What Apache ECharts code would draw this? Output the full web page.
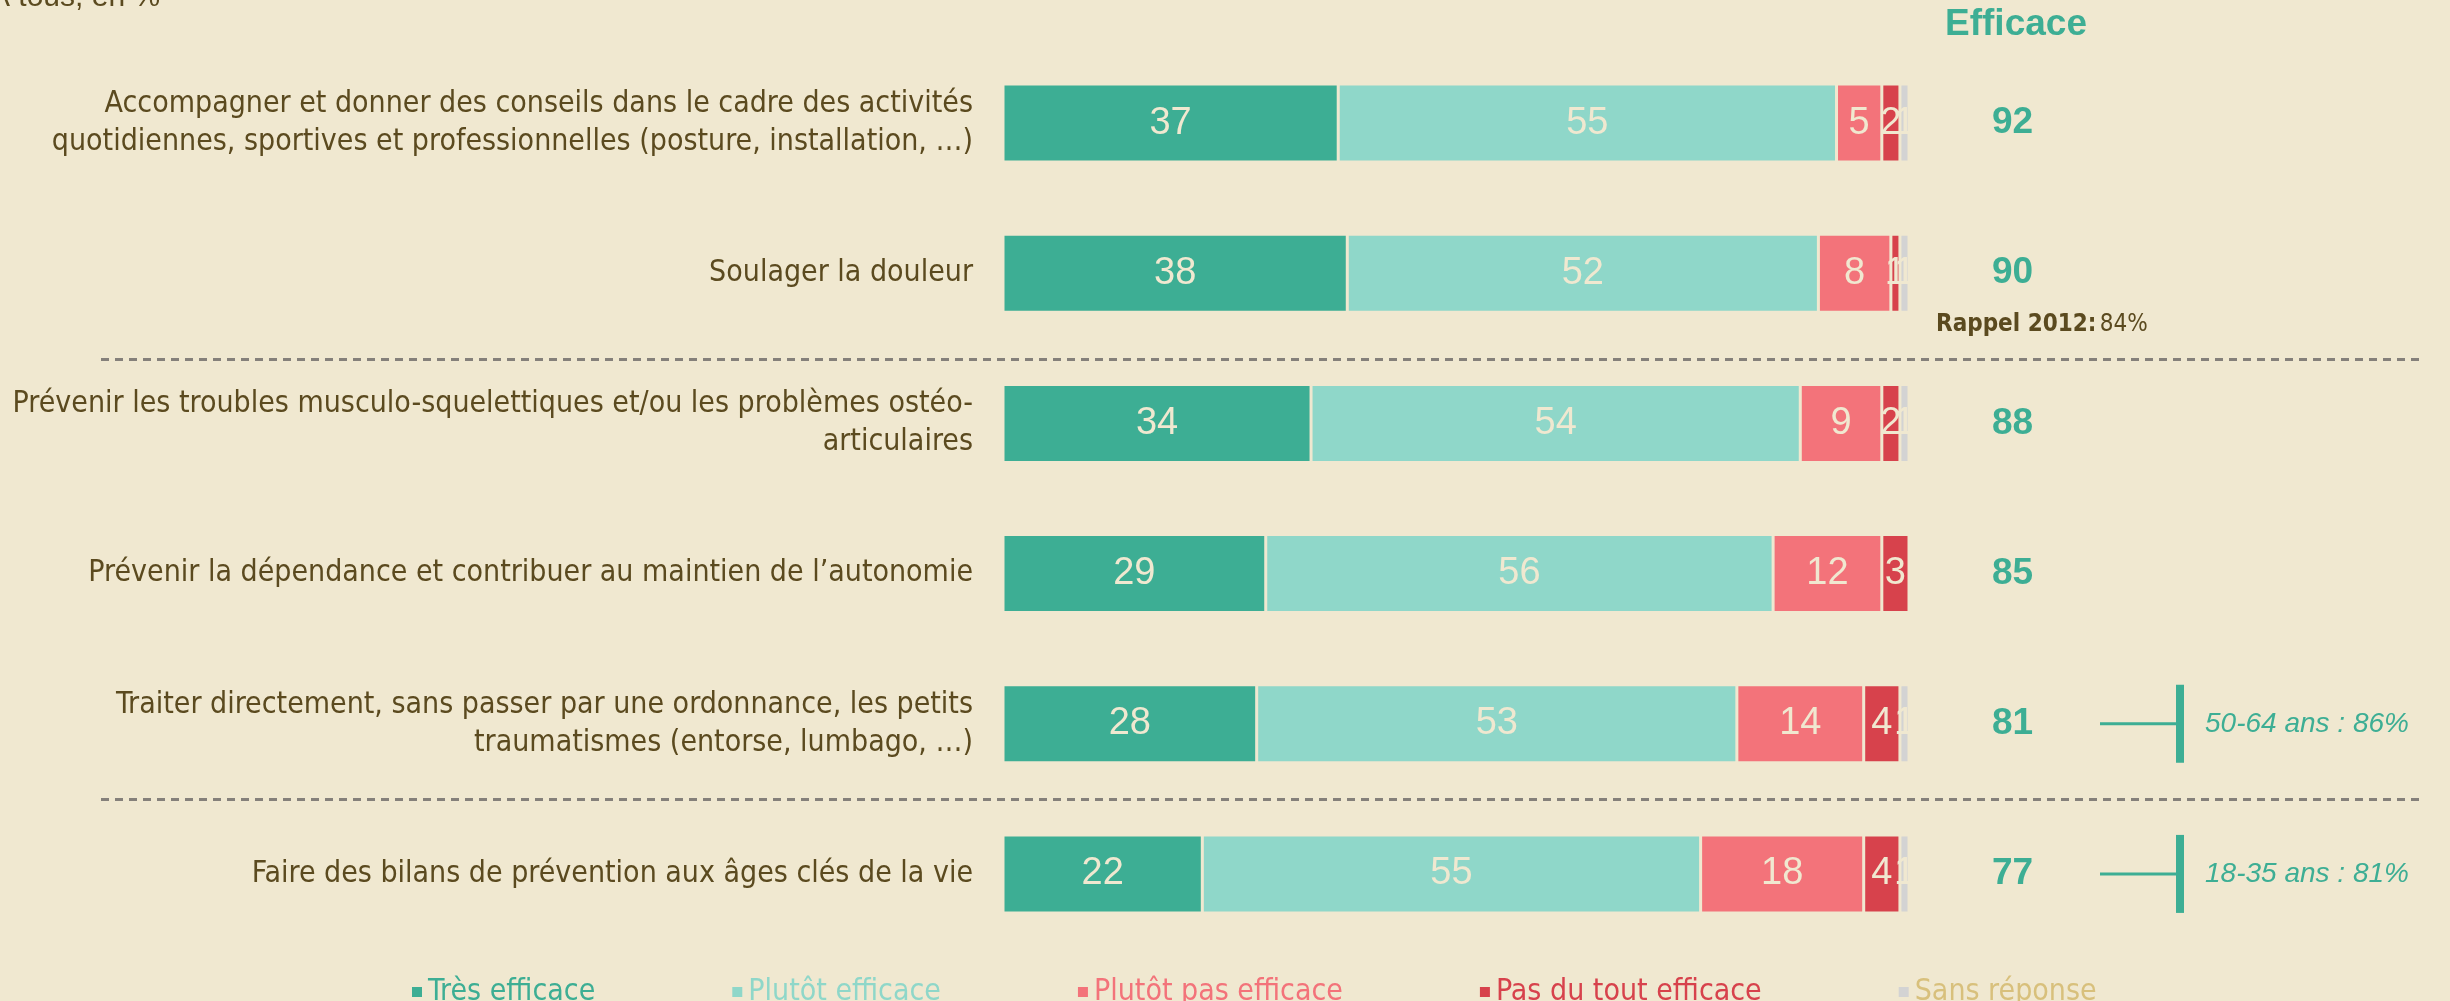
<!DOCTYPE html>
<html>
<head>
<meta charset="utf-8">
<script src="https://cdn.jsdelivr.net/npm/echarts@6/dist/echarts.min.js"></script>
<style>
  html, body { margin: 0; padding: 0; background: #f0e8d0; }
  #chart { width: 2450px; height: 1001px; }
</style>
</head>
<body>
<div id="chart"></div>
<script>
var categories = [
  'Accompagner et donner des conseils dans le cadre des activités\nquotidiennes, sportives et professionnelles (posture, installation, …)',
  'Soulager la douleur',
  'Prévenir les troubles musculo-squelettiques et/ou les problèmes ostéo-\narticulaires',
  'Prévenir la dépendance et contribuer au maintien de l’autonomie',
  'Traiter directement, sans passer par une ordonnance, les petits\ntraumatismes (entorse, lumbago, …)',
  'Faire des bilans de prévention aux âges clés de la vie'
];
var seriesNames = ['Très efficace', 'Plutôt efficace', 'Plutôt pas efficace', 'Pas du tout efficace', 'Sans réponse'];
var tresEfficace = [37, 38, 34, 29, 28, 22];
var plutotEfficace = [55, 52, 54, 56, 53, 55];
var plutotPasEfficace = [5, 8, 9, 12, 14, 18];
var pasDuToutEfficace = [2, 1, 2, 3, 4, 4];
var sansReponse = [1, 1, 1, 0, 1, 1];
var efficace = [92, 90, 88, 85, 81, 77];
var rappel = { row: 1, label: 'Rappel 2012:', value: '84%' };
var ageNotes = [
  { row: 4, text: '50-64 ans : 86%' },
  { row: 5, text: '18-35 ans : 81%' }
];
// dashed separators: drawn between row `after` and the next one
var separators = [{ after: 1, shift: 11 }, { after: 4, shift: 0 }];

var bg = '#f0e8d0';
var ink = '#5b4a1f';
var teal = '#3dae94';
var colors = ['#3dae94', '#8fd7c9', '#f3737a', '#d7424c', '#d3d3d3'];
var legendText = ['#3dae94', '#8fd7c9', '#f3737a', '#d7424c', '#d8c07c'];
var narrow = '"Liberation Sans Narrow", "DejaVu Sans Condensed", sans-serif';
var normal = '"Liberation Sans", Arial, sans-serif';

var allValues = [tresEfficace, plutotEfficace, plutotPasEfficace, pasDuToutEfficace, sansReponse];

var chart = echarts.init(document.getElementById('chart'), null, { renderer: 'canvas' });

var series = seriesNames.map(function(name, i) {
  return {
    name: name,
    type: 'bar',
    stack: 'total',
    barWidth: 78,
    data: allValues[i],
    itemStyle: { color: colors[i], borderColor: bg, borderWidth: 1.5 },
    label: {
      show: true,
      position: 'inside',
      color: bg,
      fontFamily: normal,
      fontSize: 38,
      formatter: function(p) { return p.value > 0 ? p.value : ''; }
    }
  };
});

chart.setOption({
  animation: false,
  backgroundColor: bg,
  textStyle: { fontFamily: narrow },
  grid: { left: 1003, right: 541, top: 48, bottom: 52, containLabel: false, outerBoundsMode: 'none' },
  legend: {
    left: 405,
    top: 972,
    icon: 'rect',
    itemWidth: 12,
    itemHeight: 12,
    itemGap: 135,
    textStyle: { fontFamily: narrow, fontSize: 30 },
    data: seriesNames.map(function(n, i) {
      return { name: n, textStyle: { color: legendText[i] } };
    })
  },
  xAxis: {
    type: 'value',
    min: 0,
    max: 100,
    show: false
  },
  yAxis: [{
    type: 'category',
    inverse: true,
    data: categories,
    axisLine: { show: false },
    axisTick: { show: false },
    axisLabel: {
      color: ink,
      fontFamily: narrow,
      fontSize: 30,
      lineHeight: 38,
      align: 'right',
      margin: 30
    }
  }, {
    type: 'category',
    inverse: true,
    position: 'right',
    data: efficace.map(String),
    axisLine: { show: false },
    axisTick: { show: false },
    axisLabel: {
      color: teal,
      fontFamily: normal,
      fontWeight: 'bold',
      fontSize: 37,
      margin: 83
    }
  }],
  series: series
});

function rowY(i) {
  return chart.convertToPixel({ yAxisIndex: 0 }, categories[i]);
}

var graphics = [{
  type: 'text',
  left: -10,
  top: -17,
  style: { text: 'A tous, en % -', fill: ink, font: '30px ' + normal }
}, {
  type: 'text',
  x: 2016,
  y: 25,
  style: {
    text: 'Efficace', fill: teal, align: 'center', verticalAlign: 'middle',
    font: 'bold 37px ' + normal
  }
}];

separators.forEach(function(s) {
  var y = Math.round((rowY(s.after) + rowY(s.after + 1)) / 2) + s.shift + 0.5;
  graphics.push({
    type: 'line',
    shape: { x1: 101, y1: y, x2: 2419, y2: y },
    style: { stroke: '#85807a', lineWidth: 3, lineDash: [8, 6] }
  });
});

var ry = rowY(rappel.row) + 52;
graphics.push({
  type: 'text',
  x: 1936,
  y: ry,
  style: {
    text: '{b|' + rappel.label + '} {n|' + rappel.value + '}',
    verticalAlign: 'middle',
    rich: {
      b: { fill: ink, font: 'bold 24px ' + narrow },
      n: { fill: ink, font: '24px ' + narrow }
    }
  }
});

ageNotes.forEach(function(note) {
  var y = rowY(note.row);
  graphics.push({
    type: 'line',
    shape: { x1: 2100, y1: y, x2: 2178, y2: y },
    style: { stroke: teal, lineWidth: 3 }
  });
  graphics.push({
    type: 'rect',
    shape: { x: 2176, y: y - 39, width: 8, height: 78 },
    style: { fill: teal }
  });
  graphics.push({
    type: 'text',
    x: 2205,
    y: y,
    style: {
      text: note.text, fill: teal, verticalAlign: 'middle',
      font: 'italic 28px ' + normal
    }
  });
});

chart.setOption({ graphic: graphics });
window.addEventListener('resize', function() { chart.resize(); });
</script>
</body>
</html>
